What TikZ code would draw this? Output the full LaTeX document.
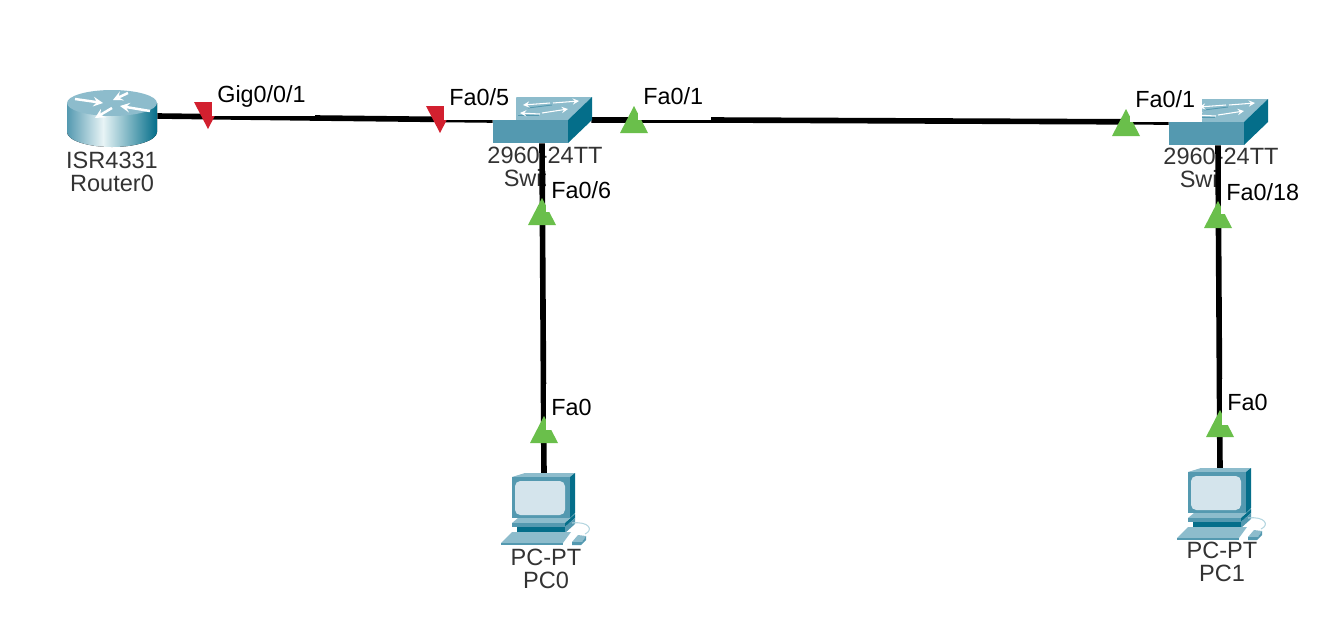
\documentclass[tikz,border=0pt]{standalone}
\usepackage{fontspec}
\setmainfont{Liberation Sans}
\definecolor{cabletop}{HTML}{8DBCCC}
\definecolor{cablefront}{HTML}{5499B0}
\definecolor{cableside}{HTML}{046E8A}
\definecolor{screenblue}{HTML}{D4E4EC}
\definecolor{cordblue}{HTML}{B5D6E0}
\definecolor{linkgreen}{HTML}{6ABF4B}
\definecolor{linkred}{HTML}{D2202F}
\definecolor{devtext}{HTML}{333333}
\definecolor{routerpale}{HTML}{E8F4F6}
\pgfdeclarehorizontalshading{routerside}{100bp}{color(0bp)=(cablefront); color(25bp)=(cablefront); color(45bp)=(routerpale); color(75bp)=(cableside); color(100bp)=(cableside)}
\newcommand{\linkup}[2]{\fill[linkgreen] (#1-14,#2) -- (#1+14,#2) -- (#1,#2-27) -- cycle;}
\newcommand{\linkdown}[2]{\fill[linkred] (#1-14,#2-27) -- (#1+14,#2-27) -- (#1,#2) -- cycle;}
\newcommand{\switchicon}[1]{%
    \begin{scope}[shift={(#1.center)}]
        \fill[cabletop] (-49,0) -- (-25,-23) -- (50,-23) -- (26,0) -- cycle;
        \fill[cablefront] (-49,0) rectangle (26,23);
        \fill[cableside] (26,0) -- (50,-23) -- (50,0) -- (26,23) -- cycle;
        \draw[cablefront,line width=0.5pt] (-14,-12) -- (10,-15);
        \draw[cablefront,line width=0.5pt] (-24,-5) -- (-3,-5);
        \draw[white,line width=0.6pt,-stealth] (8,-17) -- (-19,-15);
        \draw[white,line width=0.6pt,-stealth] (11,-17) -- (37,-19);
        \draw[white,line width=0.6pt,-stealth] (-2,-6) -- (-22,-7);
        \draw[white,line width=0.6pt,-stealth] (0,-7) -- (26,-11);
    \end{scope}}
\newcommand{\pcicon}[1]{%
    \begin{scope}[shift={(#1.center)}]
        \fill[cabletop] (-32,-23) -- (-19,-27) -- (31,-27) -- (26,-23) -- cycle;
        \fill[cablefront] (-32,-23) rectangle (26,18);
        \fill[cableside] (26,-23) -- (31,-27) -- (31,13) -- (26,18) -- cycle;
        \fill[screenblue,rounded corners=3] (-29,-19) rectangle (21,15);
        \fill[cabletop] (-32,23) -- (-26,18) -- (26,18) -- (21,23) -- cycle;
        \fill[cablefront] (-32,23) rectangle (21,27);
        \fill[cableside] (21,23) -- (31,14) -- (31,18) -- (21,27) -- cycle;
        \fill[cableside] (-27,27) rectangle (21,33);
        \fill[cablefront] (21,27) -- (31,18) -- (31,24) -- (21,33) -- cycle;
        \fill[cabletop] (-43,43) -- (-32,32) -- (27,32) -- (19,43) -- cycle;
        \fill[cablefront] (-43,43) rectangle (19,45);
        \draw[cordblue,line width=0.6pt] (28,23) .. controls (45,21) and (50,30) .. (41,34);
        \fill[cabletop] (28,42) -- (34,35) -- (42,36) -- (38,42) -- cycle;
        \fill[cablefront] (28,42) -- (38,42) -- (42,36) -- (42,40) -- (37,45) -- (28,45) -- cycle;
    \end{scope}}
\tikzset{
    routerbox/.style={minimum width=1.8cm,minimum height=1.1cm,inner sep=0pt},
    switchbox/.style={minimum width=1.96cm,minimum height=0.92cm,inner sep=0pt},
    pcbox/.style={minimum width=1.7cm,minimum height=0.92cm,inner sep=0pt},
    devlabel/.style={font=\fontsize{13.4}{13}\selectfont,text=devtext,align=center,inner sep=0pt},
    cable/.style={line width=3.2pt},
    portlabel/.style={font=\fontsize{13.3}{13}\selectfont,fill=white,anchor=west,inner xsep=0.1cm,inner ysep=0pt,
        align=left,text height=9.4pt,text depth=0pt}
}

\begin{document}
\begin{tikzpicture}[x=0.02cm,y=-0.02cm]
    \useasboundingbox (0,0) rectangle (1330,626);

    % devices
    \node[routerbox] (Router0) at (112,116) {};
    \node[switchbox] (Switch0) at (542,120) {};
    \node[switchbox] (Switch1) at (1218,122) {};
    \node[pcbox] (PC0) at (544,500) {};
    \node[pcbox] (PC1) at (1220,495) {};
    \coordinate (bendA) at (315,118);
    \coordinate (bendB) at (711,120);

    % device names, the cables run over them
    \node[devlabel] (Router0name) at (112,172) {ISR4331\\Router0};
    \node[devlabel] (Switch0name) at (545,167) {2960-24TT\\Switch0};
    \node[devlabel] (Switch1name) at (1221,168) {2960-24TT\\Switch1};
    \node[devlabel] (PC0name) at (546,569) {PC-PT\\PC0};
    \node[devlabel] (PC1name) at (1222,562) {PC-PT\\PC1};

    % cables
    \draw[cable] (Router0.east) -- (bendA) -- (Switch0.west);
    \draw[cable] (Switch0.east) -- (bendB) -- (Switch1.west);
    \draw[cable] (Switch0.south) -- (PC0.north);
    \draw[cable] (Switch1.south) -- (PC1.north);

    % icons
    \fill[shading=routerside] (67,103) -- (67,132) arc[start angle=180,end angle=0,x radius=45,y radius=15] -- (157,103) -- cycle;
    \fill[cabletop] (112,103) ellipse [x radius=45,y radius=13];
    \draw[white,line width=1.4pt,-stealth] (75,99) -- (103,103);
    \draw[white,line width=1.4pt,-stealth] (128,93) -- (113,100);
    \draw[white,line width=1.4pt,-stealth] (150,111) -- (120,106);
    \draw[white,line width=1.4pt,-stealth] (112,108) -- (95,118);
    \switchicon{Switch0}
    \switchicon{Switch1}
    \pcicon{PC0}
    \pcicon{PC1}

    % link lights
    \linkdown{208}{129}
    \linkdown{440}{133}
    \linkup{634}{133}
    \linkup{1126}{136}
    \linkup{542}{225}
    \linkup{1218}{228}
    \linkup{544}{443}
    \linkup{1220}{437}

    % port names
    \node[portlabel,minimum height=0.9cm,text width=1.86cm] (GigLabel) at (212,94) {Gig0/0/1};
    \node[portlabel,minimum height=0.92cm,text width=1.24cm] (FaFiveLabel) at (444,97) {Fa0/5};
    \node[portlabel,minimum height=0.96cm,text width=1.26cm] (FaOneLeftLabel) at (638,96) {Fa0/1};
    \node[portlabel,minimum height=0.92cm,text width=1.24cm] (FaOneRightLabel) at (1130,99) {Fa0/1};
    \node[portlabel,minimum height=0.88cm,text width=1.2cm] (FaSixLabel) at (546,190) {Fa0/6};
    \node[portlabel,minimum height=0.88cm,text width=1.5cm] (FaEighteenLabel) at (1221,192) {Fa0/18};
    \node[portlabel,minimum height=0.92cm,text width=0.9cm] (FaZeroLeftLabel) at (546,407) {Fa0};
    \node[portlabel,minimum height=0.92cm,text width=0.9cm] (FaZeroRightLabel) at (1222,402) {Fa0};
\end{tikzpicture}
\end{document}
